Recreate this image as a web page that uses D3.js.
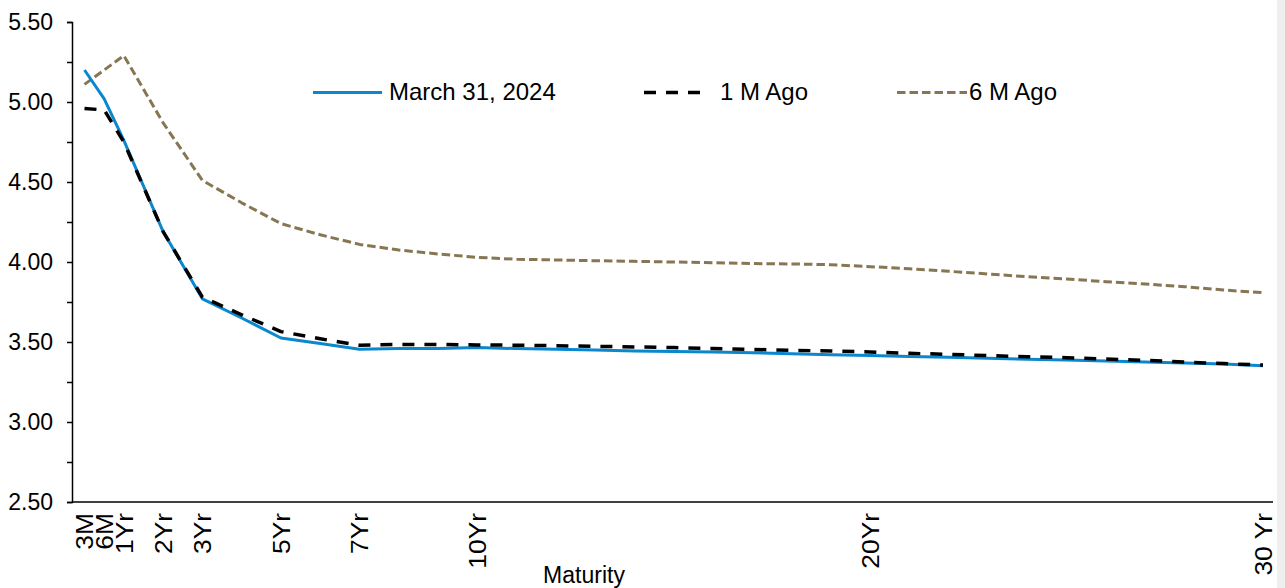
<!DOCTYPE html>
<html>
<head>
<meta charset="utf-8">
<script src="https://cdn.jsdelivr.net/npm/d3@7/dist/d3.min.js"></script>
<style>
  html, body { margin: 0; padding: 0; background: #fff; }
  svg { display: block; }
  text { font-family: "Liberation Sans", Arial, sans-serif; fill: #000; }
</style>
</head>
<body>
<svg id="chart" width="1285" height="588"></svg>
<script>
// Maturities in years (3M, 6M, then annual points out to 30 years)
const maturities = [0.25, 0.5, 1, 2, 3, 4, 5, 6, 7, 8, 9, 10, 11, 12, 13, 14, 15,
  16, 17, 18, 19, 20, 21, 22, 23, 24, 25, 26, 27, 28, 29, 30];

// Yield curve levels (%)
const march312024 = [5.20, 5.02, 4.76, 4.19, 3.77, 3.65, 3.525, 3.49, 3.455, 3.46, 3.46, 3.465,
  3.459, 3.454, 3.45, 3.444, 3.44, 3.437, 3.433, 3.427, 3.421, 3.415,
  3.41, 3.404, 3.398, 3.392, 3.387, 3.381, 3.375, 3.369, 3.362, 3.352];
const oneMonthAgo = [4.96, 4.95, 4.75, 4.19, 3.78, 3.67, 3.565, 3.52, 3.48, 3.485, 3.485, 3.482,
  3.48, 3.477, 3.473, 3.469, 3.465, 3.459, 3.454, 3.448, 3.444, 3.438,
  3.429, 3.423, 3.415, 3.408, 3.402, 3.394, 3.385, 3.375, 3.365, 3.356];
const sixMonthsAgo = [5.11, 5.20, 5.29, 4.87, 4.51, 4.37, 4.24, 4.17, 4.11, 4.075, 4.05, 4.029,
  4.017, 4.013, 4.008, 4.004, 4.0, 3.996, 3.99, 3.988, 3.983, 3.971,
  3.958, 3.942, 3.925, 3.908, 3.894, 3.877, 3.862, 3.846, 3.825, 3.808];

const seriesNames = ["March 31, 2024", "1 M Ago", "6 M Ago"];

// Axis ticks
const xTickMaturities = [0.25, 0.5, 1, 2, 3, 5, 7, 10, 20, 30];
const xTickLabels = ["3M", "6M", "1Yr", "2Yr", "3Yr", "5Yr", "7Yr", "10Yr", "20Yr", "30 Yr"];
const yTickValues = [2.5, 2.75, 3.0, 3.25, 3.5, 3.75, 4.0, 4.25, 4.5, 4.75, 5.0, 5.25, 5.5];
const yMajorTicks = [2.5, 3.0, 3.5, 4.0, 4.5, 5.0, 5.5];

const svg = d3.select("#chart");

// Plot frame
const plotLeft = 72, plotRight = 1273, plotTop = 22, plotBottom = 502;

// Category-style spacing: 3M and 6M sit one half-year slot apart, then linear in years
const x = d3.scaleLinear()
  .domain([0.25, 0.5, 30])
  .range([84.5, 104.2, 1263]);
const y = d3.scaleLinear()
  .domain([2.5, 5.5])
  .range([plotBottom, plotTop]);

// Light strip on the far right edge
svg.append("rect").attr("x", 1277).attr("y", 0).attr("width", 8).attr("height", 588)
  .attr("fill", "#efefef");

// Y axis
const yAxis = svg.append("g")
  .attr("transform", `translate(${plotLeft},0)`)
  .call(d3.axisLeft(y)
    .tickValues(yTickValues)
    .tickSize(5)
    .tickPadding(14)
    .tickFormat(d => yMajorTicks.some(m => Math.abs(m - d) < 1e-9) ? d3.format(".2f")(d) : ""));
yAxis.select(".domain").attr("stroke", "#000").attr("stroke-width", 1.5);
yAxis.selectAll(".tick line").attr("stroke", "#000").attr("stroke-width", 1.5);
yAxis.selectAll(".tick text").style("font-size", "23px").attr("fill", "#000");

// X axis baseline
svg.append("line")
  .attr("x1", plotLeft).attr("x2", plotRight)
  .attr("y1", plotBottom).attr("y2", plotBottom)
  .attr("stroke", "#000").attr("stroke-width", 1.5);

// X axis labels, rotated and slightly stretched along the reading direction
const xAxis = svg.append("g")
  .attr("transform", `translate(0,${plotBottom})`)
  .call(d3.axisBottom(x)
    .tickValues(xTickMaturities)
    .tickSize(0)
    .tickFormat((d, i) => xTickLabels[i]));
xAxis.select(".domain").remove();
xAxis.selectAll(".tick text")
  .attr("transform", "rotate(-90) scale(1.15,1)")
  .attr("text-anchor", "end")
  .attr("x", -9.5)
  .attr("y", 0)
  .attr("dy", "0.36em")
  .style("font-size", "23px")
  .attr("fill", "#000");

// Axis title
svg.append("text")
  .attr("x", 584).attr("y", 583)
  .attr("text-anchor", "middle")
  .style("font-size", "23px")
  .text("Maturity");

// Series lines
const series = [
  { name: seriesNames[0], values: march312024, color: "#0a87cf", width: 3, dash: null },
  { name: seriesNames[1], values: oneMonthAgo, color: "#000000", width: 3.5, dash: "12,10" },
  { name: seriesNames[2], values: sixMonthsAgo, color: "#877653", width: 3, dash: "8.5,4" }
];

const line = d3.line()
  .x(d => x(d[0]))
  .y(d => y(d[1]));

// Draw back-to-front: 6M ago, current, 1M ago
[series[2], series[0], series[1]].forEach(s => {
  svg.append("path")
    .datum(maturities.map((m, i) => [m, s.values[i]]))
    .attr("d", line)
    .attr("fill", "none")
    .attr("stroke", s.color)
    .attr("stroke-width", s.width)
    .attr("stroke-dasharray", s.dash)
    .attr("stroke-linejoin", "round");
});

// Legend
const legendItems = [
  { s: series[0], x1: 313, x2: 382, tx: 389 },
  { s: series[1], x1: 644, x2: 703, tx: 720 },
  { s: series[2], x1: 897, x2: 967, tx: 969 }
];
const legend = svg.append("g");
legendItems.forEach(item => {
  legend.append("line")
    .attr("x1", item.x1).attr("x2", item.x2)
    .attr("y1", 92.5).attr("y2", 92.5)
    .attr("stroke", item.s.color)
    .attr("stroke-width", item.s.width)
    .attr("stroke-dasharray", item.s.dash);
  legend.append("text")
    .attr("x", item.tx).attr("y", 100)
    .style("font-size", "24px")
    .text(item.s.name);
});
</script>
</body>
</html>
